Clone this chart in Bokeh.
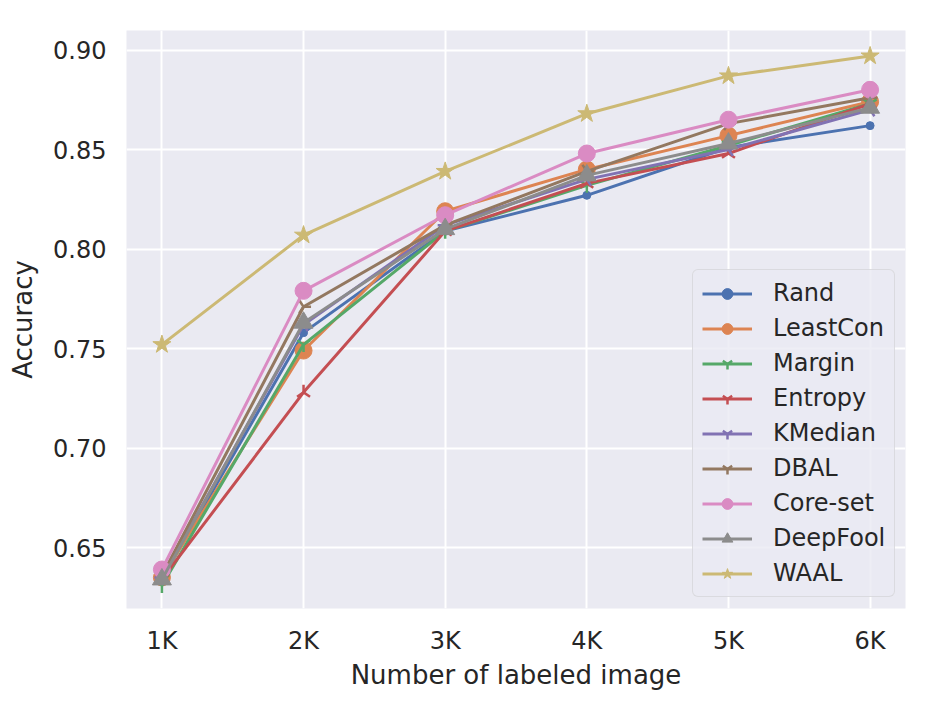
import math
from bokeh.plotting import figure
from bokeh.models import Range1d, FixedTicker, Legend, LegendItem
from bokeh.embed import file_html
from bokeh.resources import INLINE

x_vals = [1, 2, 3, 4, 5, 6]
x_labels = ["1K", "2K", "3K", "4K", "5K", "6K"]
y_ticks = [0.65, 0.70, 0.75, 0.80, 0.85, 0.90]

names = ["Rand", "LeastCon", "Margin", "Entropy", "KMedian", "DBAL", "Core-set", "DeepFool", "WAAL"]
rand = [0.634, 0.758, 0.809, 0.827, 0.851, 0.862]
leastcon = [0.635, 0.749, 0.819, 0.840, 0.857, 0.874]
margin = [0.631, 0.752, 0.809, 0.832, 0.852, 0.873]
entropy = [0.634, 0.728, 0.809, 0.833, 0.848, 0.873]
kmedian = [0.635, 0.762, 0.812, 0.835, 0.850, 0.870]
dbal = [0.636, 0.771, 0.812, 0.839, 0.863, 0.876]
coreset = [0.639, 0.779, 0.817, 0.848, 0.865, 0.880]
deepfool = [0.634, 0.763, 0.810, 0.837, 0.853, 0.871]
waal = [0.752, 0.807, 0.839, 0.868, 0.887, 0.897]
series = [rand, leastcon, margin, entropy, kmedian, dbal, coreset, deepfool, waal]

colors = ["#4C72B0", "#DD8452", "#55A868", "#C44E52", "#8172B3", "#937860", "#DA8BC3", "#8C8C8C", "#CCB974"]
# marker, size, angle, filled
markers = [
    ("circle", 8, 0.0, True),
    ("circle", 17, 0.0, True),
    ("y", 15, 0.0, False),
    ("y", 15, math.pi, False),
    ("y", 15, -math.pi / 2, False),
    ("y", 15, math.pi / 2, False),
    ("circle", 17, 0.0, True),
    ("triangle", 19, 0.0, True),
    ("star", 19, 0.0, True),
]

TEXT = "#262626"
FONT = "DejaVu Sans"

p = figure(width=919, height=692, output_backend="svg", toolbar_location=None,
           x_range=Range1d(0.75, 6.25), y_range=Range1d(0.6194, 0.9098),
           min_border_left=126, min_border_right=14, min_border_top=30, min_border_bottom=83)
p.background_fill_color = "#EAEAF2"
p.border_fill_color = "white"
p.outline_line_color = None

p.xgrid.grid_line_color = "white"
p.ygrid.grid_line_color = "white"
p.xgrid.grid_line_width = 2
p.ygrid.grid_line_width = 2

p.xaxis.ticker = FixedTicker(ticks=x_vals)
p.xaxis.major_label_overrides = {v: l for v, l in zip(x_vals, x_labels)}
p.yaxis.ticker = FixedTicker(ticks=y_ticks)
p.yaxis.major_label_overrides = {v: f"{v:.2f}" for v in y_ticks}

for ax in (p.xaxis, p.yaxis):
    ax.axis_line_color = None
    ax.major_tick_line_color = None
    ax.minor_tick_line_color = None
    ax.major_label_text_font = FONT
    ax.major_label_text_font_size = "24px"
    ax.major_label_text_color = TEXT
    ax.axis_label_text_font = FONT
    ax.axis_label_text_font_size = "26px"
    ax.axis_label_text_font_style = "normal"
    ax.axis_label_text_color = TEXT
p.xaxis.major_label_standoff = 12
p.yaxis.major_label_standoff = 14
p.xaxis.axis_label = "Number of labeled image"
p.yaxis.axis_label = "Accuracy"
p.xaxis.axis_label_standoff = 2
p.yaxis.axis_label_standoff = 12

items = []
for name, ys, col, (mk, sz, ang, filled) in zip(names, series, colors, markers):
    ln = p.line(x_vals, ys, line_color=col, line_width=3)
    sc = p.scatter(x_vals, ys, marker=mk, size=sz, angle=ang,
                   fill_color=col, line_color=col, line_width=2.5 if not filled else 1)
    items.append(LegendItem(label=name, renderers=[ln, sc]))

legend = Legend(items=items, location=(566, 11))
legend.label_text_font = FONT
legend.label_text_font_size = "24px"
legend.label_text_color = TEXT
legend.glyph_width = 50
legend.glyph_height = 27
legend.label_height = 27
legend.spacing = 7
legend.padding = 9
legend.margin = 0
legend.label_standoff = 21
legend.background_fill_color = "#EAEAF2"
legend.background_fill_alpha = 0.8
legend.border_line_color = "#CCCCCC"
legend.border_line_width = 1.5
legend.border_radius = 6
p.add_layout(legend, "center")

open("out.html", "w").write(file_html(p, INLINE))
